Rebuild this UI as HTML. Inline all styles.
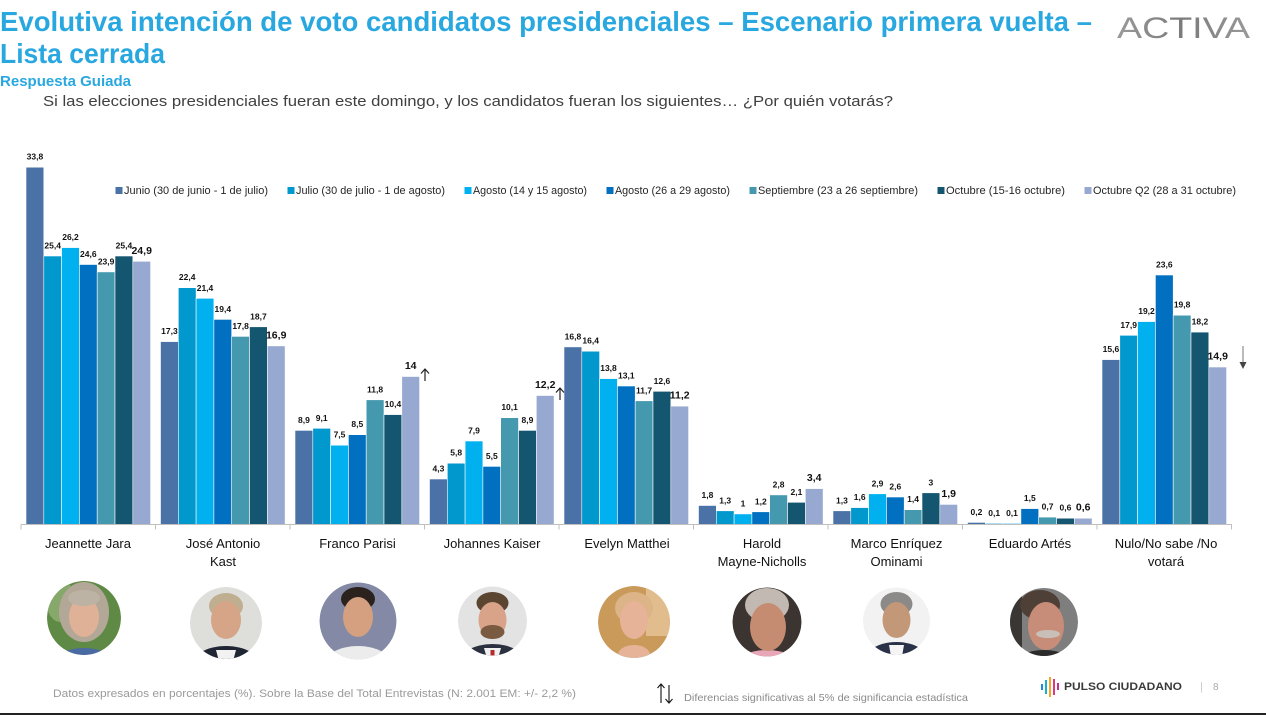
<!DOCTYPE html>
<html><head><meta charset="utf-8">
<style>
html,body{margin:0;padding:0;background:#fff;}
body{width:1266px;height:715px;overflow:hidden;}
svg{display:block;}
</style></head>
<body>
<svg width="1266" height="715" viewBox="0 0 1266 715" xmlns="http://www.w3.org/2000/svg" font-family="'Liberation Sans', sans-serif">
<defs>
<clipPath id="c1"><circle cx="84" cy="618" r="37"/></clipPath>
<clipPath id="c2"><circle cx="226" cy="623" r="36"/></clipPath>
<clipPath id="c3"><circle cx="358" cy="621" r="38.5"/></clipPath>
<clipPath id="c4"><circle cx="492.5" cy="621" r="34.5"/></clipPath>
<clipPath id="c5"><circle cx="634" cy="622" r="36"/></clipPath>
<clipPath id="c6"><circle cx="767" cy="622" r="34.5"/></clipPath>
<clipPath id="c7"><circle cx="896.5" cy="621" r="33.5"/></clipPath>
<clipPath id="c8"><circle cx="1044" cy="622" r="34"/></clipPath>
<linearGradient id="ga" x1="0" y1="0" x2="1" y2="0"><stop offset="0" stop-color="#9a9a9a"/><stop offset="0.5" stop-color="#7a7a7a"/><stop offset="1" stop-color="#9a9a9a"/></linearGradient>
</defs>

<!-- Title -->
<text x="0" y="31" font-size="28" font-weight="bold" fill="#29a8e0" textLength="1092" lengthAdjust="spacingAndGlyphs">Evolutiva intención de voto candidatos presidenciales – Escenario primera vuelta –</text>
<text x="0" y="63" font-size="28" font-weight="bold" fill="#29a8e0" textLength="165" lengthAdjust="spacingAndGlyphs">Lista cerrada</text>
<text x="0" y="86" font-size="15" font-weight="bold" fill="#29a8e0" textLength="131" lengthAdjust="spacingAndGlyphs">Respuesta Guiada</text>
<text x="43" y="106" font-size="15" fill="#404040" textLength="850" lengthAdjust="spacingAndGlyphs">Si las elecciones presidenciales fueran este domingo, y los candidatos fueran los siguientes… ¿Por quién votarás?</text>

<!-- ACTIVA logo -->
<text x="1117" y="38" font-size="30" fill="url(#ga)" textLength="133" lengthAdjust="spacingAndGlyphs">ACTIVA</text>

<!-- Legend -->
<g font-size="11" fill="#262626">
<rect x="115.5" y="187" width="7" height="7" fill="#4a72a6"/><text x="124" y="194" textLength="144" lengthAdjust="spacingAndGlyphs">Junio (30 de junio - 1 de julio)</text>
<rect x="287.5" y="187" width="7" height="7" fill="#0098cd"/><text x="296" y="194" textLength="149" lengthAdjust="spacingAndGlyphs">Julio (30 de julio - 1 de agosto)</text>
<rect x="464.5" y="187" width="7" height="7" fill="#00b0ef"/><text x="473" y="194" textLength="114" lengthAdjust="spacingAndGlyphs">Agosto (14 y 15 agosto)</text>
<rect x="606.5" y="187" width="7" height="7" fill="#0170c1"/><text x="615" y="194" textLength="115" lengthAdjust="spacingAndGlyphs">Agosto (26 a 29 agosto)</text>
<rect x="749.5" y="187" width="7" height="7" fill="#4499af"/><text x="758" y="194" textLength="160" lengthAdjust="spacingAndGlyphs">Septiembre (23 a 26 septiembre)</text>
<rect x="937.5" y="187" width="7" height="7" fill="#14566f"/><text x="946" y="194" textLength="119" lengthAdjust="spacingAndGlyphs">Octubre (15-16 octubre)</text>
<rect x="1084.5" y="187" width="7" height="7" fill="#97a9d1"/><text x="1093" y="194" textLength="143" lengthAdjust="spacingAndGlyphs">Octubre Q2 (28 a 31 octubre)</text>
</g>

<!-- Bars -->
<g stroke="#ffffff" stroke-width="0.6">
<!-- Jara -->
<rect x="26" y="167.2" width="17.8" height="357.3" fill="#4a72a6"/>
<rect x="43.8" y="256.0" width="17.8" height="268.5" fill="#0098cd"/>
<rect x="61.6" y="247.6" width="17.8" height="276.9" fill="#00b0ef"/>
<rect x="79.4" y="264.5" width="17.8" height="260.0" fill="#0170c1"/>
<rect x="97.2" y="271.9" width="17.8" height="252.6" fill="#4499af"/>
<rect x="115" y="256.0" width="17.8" height="268.5" fill="#14566f"/>
<rect x="132.8" y="261.3" width="17.8" height="263.2" fill="#97a9d1"/>
<!-- Kast -->
<rect x="160.5" y="341.6" width="17.8" height="182.9" fill="#4a72a6"/>
<rect x="178.3" y="287.7" width="17.8" height="236.8" fill="#0098cd"/>
<rect x="196.1" y="298.3" width="17.8" height="226.2" fill="#00b0ef"/>
<rect x="213.9" y="319.4" width="17.8" height="205.1" fill="#0170c1"/>
<rect x="231.7" y="336.4" width="17.8" height="188.1" fill="#4499af"/>
<rect x="249.5" y="326.8" width="17.8" height="197.7" fill="#14566f"/>
<rect x="267.3" y="345.9" width="17.8" height="178.6" fill="#97a9d1"/>
<!-- Parisi -->
<rect x="295" y="430.4" width="17.8" height="94.1" fill="#4a72a6"/>
<rect x="312.8" y="428.3" width="17.8" height="96.2" fill="#0098cd"/>
<rect x="330.6" y="445.2" width="17.8" height="79.3" fill="#00b0ef"/>
<rect x="348.4" y="434.7" width="17.8" height="89.8" fill="#0170c1"/>
<rect x="366.2" y="399.8" width="17.8" height="124.7" fill="#4499af"/>
<rect x="384" y="414.6" width="17.8" height="109.9" fill="#14566f"/>
<rect x="401.8" y="376.5" width="17.8" height="148.0" fill="#97a9d1"/>
<!-- Kaiser -->
<rect x="429.5" y="479.0" width="17.8" height="45.5" fill="#4a72a6"/>
<rect x="447.3" y="463.2" width="17.8" height="61.3" fill="#0098cd"/>
<rect x="465.1" y="441.0" width="17.8" height="83.5" fill="#00b0ef"/>
<rect x="482.9" y="466.4" width="17.8" height="58.1" fill="#0170c1"/>
<rect x="500.7" y="417.7" width="17.8" height="106.8" fill="#4499af"/>
<rect x="518.5" y="430.4" width="17.8" height="94.1" fill="#14566f"/>
<rect x="536.3" y="395.5" width="17.8" height="129.0" fill="#97a9d1"/>
<!-- Matthei -->
<rect x="564" y="346.9" width="17.8" height="177.6" fill="#4a72a6"/>
<rect x="581.8" y="351.2" width="17.8" height="173.3" fill="#0098cd"/>
<rect x="599.6" y="378.6" width="17.8" height="145.9" fill="#00b0ef"/>
<rect x="617.4" y="386.0" width="17.8" height="138.5" fill="#0170c1"/>
<rect x="635.2" y="400.8" width="17.8" height="123.7" fill="#4499af"/>
<rect x="653" y="391.3" width="17.8" height="133.2" fill="#14566f"/>
<rect x="670.8" y="406.1" width="17.8" height="118.4" fill="#97a9d1"/>
<!-- Harold -->
<rect x="698.5" y="505.5" width="17.8" height="19.0" fill="#4a72a6"/>
<rect x="716.3" y="510.8" width="17.8" height="13.7" fill="#0098cd"/>
<rect x="734.1" y="513.9" width="17.8" height="10.6" fill="#00b0ef"/>
<rect x="751.9" y="511.8" width="17.8" height="12.7" fill="#0170c1"/>
<rect x="769.7" y="494.9" width="17.8" height="29.6" fill="#4499af"/>
<rect x="787.5" y="502.3" width="17.8" height="22.2" fill="#14566f"/>
<rect x="805.3" y="488.6" width="17.8" height="35.9" fill="#97a9d1"/>
<!-- Marco -->
<rect x="833" y="510.8" width="17.8" height="13.7" fill="#4a72a6"/>
<rect x="850.8" y="507.6" width="17.8" height="16.9" fill="#0098cd"/>
<rect x="868.6" y="493.8" width="17.8" height="30.7" fill="#00b0ef"/>
<rect x="886.4" y="497.0" width="17.8" height="27.5" fill="#0170c1"/>
<rect x="904.2" y="509.7" width="17.8" height="14.8" fill="#4499af"/>
<rect x="922" y="492.8" width="17.8" height="31.7" fill="#14566f"/>
<rect x="939.8" y="504.4" width="17.8" height="20.1" fill="#97a9d1"/>
<!-- Artes -->
<rect x="967.5" y="522.4" width="17.8" height="2.1" fill="#4a72a6"/>
<rect x="985.3" y="523.4" width="17.8" height="1.1" fill="#0098cd"/>
<rect x="1003.1" y="523.4" width="17.8" height="1.1" fill="#00b0ef"/>
<rect x="1020.9" y="508.6" width="17.8" height="15.9" fill="#0170c1"/>
<rect x="1038.7" y="517.1" width="17.8" height="7.4" fill="#4499af"/>
<rect x="1056.5" y="518.2" width="17.8" height="6.3" fill="#14566f"/>
<rect x="1074.3" y="518.2" width="17.8" height="6.3" fill="#97a9d1"/>
<!-- Nulo -->
<rect x="1102" y="359.6" width="17.8" height="164.9" fill="#4a72a6"/>
<rect x="1119.8" y="335.3" width="17.8" height="189.2" fill="#0098cd"/>
<rect x="1137.6" y="321.6" width="17.8" height="202.9" fill="#00b0ef"/>
<rect x="1155.4" y="275.0" width="17.8" height="249.5" fill="#0170c1"/>
<rect x="1173.2" y="315.2" width="17.8" height="209.3" fill="#4499af"/>
<rect x="1191" y="332.1" width="17.8" height="192.4" fill="#14566f"/>
<rect x="1208.8" y="367.0" width="17.8" height="157.5" fill="#97a9d1"/>
</g>

<!-- Value labels -->
<g font-size="8.5" font-weight="bold" fill="#111" text-anchor="middle">
<text x="34.9" y="159.7">33,8</text><text x="52.7" y="248.5">25,4</text><text x="70.5" y="240.1">26,2</text><text x="88.3" y="257">24,6</text><text x="106.1" y="264.4">23,9</text><text x="123.9" y="248.5">25,4</text>
<text x="169.4" y="334.1">17,3</text><text x="187.2" y="280.2">22,4</text><text x="205" y="290.8">21,4</text><text x="222.8" y="311.9">19,4</text><text x="240.6" y="328.9">17,8</text><text x="258.4" y="319.3">18,7</text>
<text x="303.9" y="422.9">8,9</text><text x="321.7" y="420.8">9,1</text><text x="339.5" y="437.7">7,5</text><text x="357.3" y="427.2">8,5</text><text x="375.1" y="392.3">11,8</text><text x="392.9" y="407.1">10,4</text>
<text x="438.4" y="471.5">4,3</text><text x="456.2" y="455.7">5,8</text><text x="474" y="433.5">7,9</text><text x="491.8" y="458.9">5,5</text><text x="509.6" y="410.2">10,1</text><text x="527.4" y="422.9">8,9</text>
<text x="572.9" y="339.4">16,8</text><text x="590.7" y="343.7">16,4</text><text x="608.5" y="371.1">13,8</text><text x="626.3" y="378.5">13,1</text><text x="644.1" y="393.3">11,7</text><text x="661.9" y="383.8">12,6</text>
<text x="707.4" y="498">1,8</text><text x="725.2" y="503.3">1,3</text><text x="743" y="506.4">1</text><text x="760.8" y="504.3">1,2</text><text x="778.6" y="487.4">2,8</text><text x="796.4" y="494.8">2,1</text>
<text x="841.9" y="503.3">1,3</text><text x="859.7" y="500.1">1,6</text><text x="877.5" y="486.3">2,9</text><text x="895.3" y="489.5">2,6</text><text x="913.1" y="502.2">1,4</text><text x="930.9" y="485.3">3</text>
<text x="976.4" y="514.9">0,2</text><text x="994.2" y="515.9">0,1</text><text x="1012" y="515.9">0,1</text><text x="1029.8" y="501.1">1,5</text><text x="1047.6" y="509.6">0,7</text><text x="1065.4" y="510.7">0,6</text>
<text x="1110.9" y="352.1">15,6</text><text x="1128.7" y="327.8">17,9</text><text x="1146.5" y="314.1">19,2</text><text x="1164.3" y="267.5">23,6</text><text x="1182.1" y="307.7">19,8</text><text x="1199.9" y="324.6">18,2</text>
</g>
<g font-size="10.5" font-weight="bold" fill="#111" text-anchor="middle">
<text x="141.7" y="253.8">24,9</text>
<text x="276.2" y="338.4">16,9</text>
<text x="410.7" y="369">14</text>
<text x="545.2" y="388">12,2</text>
<text x="679.7" y="398.6">11,2</text>
<text x="814.2" y="481.1">3,4</text>
<text x="948.7" y="496.9">1,9</text>
<text x="1083.2" y="510.7">0,6</text>
<text x="1217.7" y="359.5">14,9</text>
</g>

<!-- significance arrows -->
<g stroke="#222" stroke-width="1.2" fill="none">
<path d="M425 381 L425 369 M421 373.5 L425 369 L429 373.5"/>
<path d="M560 400 L560 388 M556 392.5 L560 388 L564 392.5"/>
</g>
<line x1="1243" y1="346" x2="1243" y2="364" stroke="#777" stroke-width="1"/>
<path d="M1239.5 362 L1246.5 362 L1243 369 Z" fill="#444"/>

<!-- Axis -->
<g stroke="#bfbfbf" stroke-width="1">
<line x1="21" y1="524.5" x2="1232" y2="524.5"/>
<line x1="21" y1="524.5" x2="21" y2="529.5"/>
<line x1="155.5" y1="524.5" x2="155.5" y2="529.5"/>
<line x1="290" y1="524.5" x2="290" y2="529.5"/>
<line x1="424.5" y1="524.5" x2="424.5" y2="529.5"/>
<line x1="559" y1="524.5" x2="559" y2="529.5"/>
<line x1="693.5" y1="524.5" x2="693.5" y2="529.5"/>
<line x1="828" y1="524.5" x2="828" y2="529.5"/>
<line x1="962.5" y1="524.5" x2="962.5" y2="529.5"/>
<line x1="1097" y1="524.5" x2="1097" y2="529.5"/>
<line x1="1231.5" y1="524.5" x2="1231.5" y2="529.5"/>
</g>

<!-- Category labels -->
<g font-size="13" fill="#111" text-anchor="middle">
<text x="88" y="548">Jeannette Jara</text>
<text x="223" y="548">José Antonio</text><text x="223" y="566">Kast</text>
<text x="357.5" y="548">Franco Parisi</text>
<text x="492" y="548">Johannes Kaiser</text>
<text x="627" y="548">Evelyn Matthei</text>
<text x="762" y="548">Harold</text><text x="762" y="566">Mayne-Nicholls</text>
<text x="896.5" y="548">Marco Enríquez</text><text x="896.5" y="566">Ominami</text>
<text x="1030" y="548">Eduardo Artés</text>
<text x="1166" y="548">Nulo/No sabe /No</text><text x="1166" y="566">votará</text>
</g>

<!-- Photos -->
<g clip-path="url(#c1)">
<circle cx="84" cy="618" r="37" fill="#5e8a45"/>
<ellipse cx="60" cy="600" rx="14" ry="22" fill="#86a86a"/>
<ellipse cx="84" cy="612" rx="25" ry="30" fill="#b3a898"/>
<ellipse cx="84" cy="668" rx="34" ry="20" fill="#4a6aa2"/>
<ellipse cx="84" cy="617" rx="15" ry="20" fill="#dfb197"/>
<ellipse cx="84" cy="598" rx="16" ry="8" fill="#bcb3a4"/>
</g>
<g clip-path="url(#c2)">
<circle cx="226" cy="623" r="36" fill="#dedfdb"/>
<ellipse cx="226" cy="668" rx="36" ry="22" fill="#1f2532"/>
<path d="M216 650 L236 650 L232 665 L220 665 Z" fill="#f2f2f2"/>
<ellipse cx="226" cy="606" rx="17" ry="13" fill="#bfae90"/>
<ellipse cx="226" cy="620" rx="15" ry="19" fill="#d6a487"/>
</g>
<g clip-path="url(#c3)">
<circle cx="358" cy="621" r="38.5" fill="#8489a6"/>
<ellipse cx="358" cy="668" rx="36" ry="22" fill="#ececec"/>
<ellipse cx="358" cy="599" rx="17" ry="12" fill="#2b221e"/>
<ellipse cx="358" cy="617" rx="15" ry="20" fill="#d4a07f"/>
</g>
<g clip-path="url(#c4)">
<circle cx="492.5" cy="621" r="34.5" fill="#e3e3e3"/>
<ellipse cx="492.5" cy="664" rx="34" ry="20" fill="#2c3140"/>
<path d="M484 648 L501 648 L497 662 L488 662 Z" fill="#f0f0f0"/>
<rect x="490.5" y="650" width="4" height="12" fill="#b52a2a"/>
<ellipse cx="492.5" cy="603" rx="16" ry="11" fill="#5b4430"/>
<ellipse cx="492.5" cy="620" rx="14" ry="18" fill="#d8a389"/>
<ellipse cx="492.5" cy="632" rx="12" ry="7" fill="#7a5a40"/>
</g>
<g clip-path="url(#c5)">
<circle cx="634" cy="622" r="36" fill="#c99a5a"/>
<rect x="646" y="586" width="24" height="50" fill="#e1bd8e"/>
<ellipse cx="634" cy="668" rx="36" ry="16" fill="#86d3b8"/>
<ellipse cx="634" cy="655" rx="16" ry="10" fill="#e6b399"/>
<ellipse cx="634" cy="608" rx="19" ry="16" fill="#dcb487"/>
<ellipse cx="634" cy="620" rx="14" ry="19" fill="#e6b399"/>
</g>
<g clip-path="url(#c6)">
<circle cx="767" cy="622" r="34.5" fill="#3b3431"/>
<ellipse cx="767" cy="666" rx="32" ry="16" fill="#e7a7b8"/>
<ellipse cx="767" cy="605" rx="22" ry="17" fill="#c2bab2"/>
<ellipse cx="768" cy="627" rx="18" ry="24" fill="#c58c72"/>
</g>
<g clip-path="url(#c7)">
<circle cx="896.5" cy="621" r="33.5" fill="#f2f2f2"/>
<ellipse cx="896.5" cy="664" rx="34" ry="22" fill="#2a3247"/>
<path d="M889 645 L904 645 L901 662 L892 662 Z" fill="#f5f5f5"/>
<ellipse cx="896.5" cy="604" rx="16" ry="12" fill="#8c8a88"/>
<ellipse cx="896.5" cy="620" rx="14" ry="18" fill="#c39878"/>
</g>
<g clip-path="url(#c8)">
<circle cx="1044" cy="622" r="34" fill="#7e7e7e"/>
<rect x="1010" y="588" width="12" height="70" fill="#3a3634"/>
<ellipse cx="1044" cy="665" rx="30" ry="15" fill="#2b2b2b"/>
<ellipse cx="1040" cy="605" rx="20" ry="15" fill="#4e3f37"/>
<ellipse cx="1046" cy="626" rx="18" ry="24" fill="#c88d78"/>
<ellipse cx="1048" cy="634" rx="12" ry="4" fill="#c8c0b8"/>
</g>

<!-- Footer -->
<text x="53" y="697" font-size="11" fill="#9a9a9a" textLength="523" lengthAdjust="spacingAndGlyphs">Datos expresados en porcentajes (%). Sobre la Base del Total Entrevistas (N: 2.001  EM: +/- 2,2 %)</text>
<g stroke="#111" stroke-width="1.1" fill="none">
<path d="M661 703 L661 684 M657.5 688 L661 684 L664.5 688"/>
<path d="M669 685 L669 703 M665.5 699 L669 703 L672.5 699"/>
</g>
<text x="684" y="701" font-size="10.5" fill="#8a8a8a" textLength="284" lengthAdjust="spacingAndGlyphs">Diferencias  significativas  al 5% de significancia estadística</text>

<!-- Pulso Ciudadano logo -->
<rect x="1041" y="684" width="2" height="6" fill="#1e88e5"/>
<rect x="1045" y="680" width="2" height="14" fill="#17b3c8"/>
<rect x="1049" y="677" width="2" height="20" fill="#f5a623"/>
<rect x="1053" y="679" width="2" height="16" fill="#e0387a"/>
<rect x="1057" y="683" width="2" height="7" fill="#c3308f"/>
<text x="1064" y="690" font-size="11" font-weight="bold" fill="#3a3a3a" textLength="118" lengthAdjust="spacingAndGlyphs">PULSO CIUDADANO</text>
<text x="1200" y="690" font-size="11" fill="#c8c8c8">|</text>
<text x="1213" y="690" font-size="10" fill="#aaaaaa">8</text>

<rect x="0" y="713" width="1266" height="2" fill="#222"/>
</svg>
</body></html>
